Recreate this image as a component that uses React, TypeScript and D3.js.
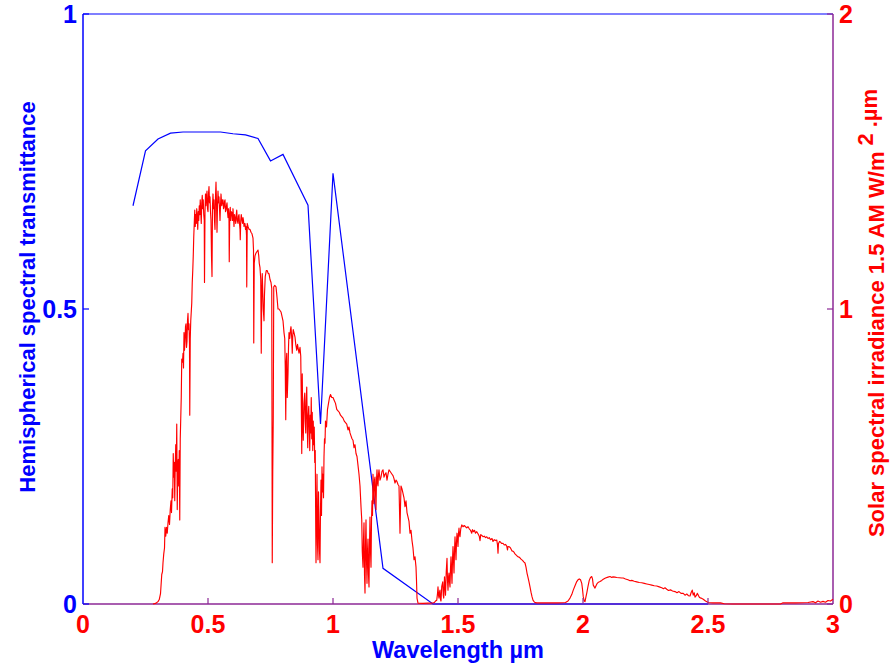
import React from "react";
import * as d3 from "d3";

// ---- Data ----
const transWavelength = [0.2, 0.25, 0.3, 0.35, 0.4, 0.45, 0.5, 0.55, 0.6, 0.65, 0.7, 0.75, 0.8, 0.9, 0.95, 1.0, 1.2, 1.4, 2.5];
const transValue = [0.675, 0.768, 0.788, 0.798, 0.8, 0.8, 0.8, 0.8, 0.797, 0.795, 0.789, 0.751, 0.762, 0.676, 0.305, 0.73, 0.0605, 0, 0];

const irradianceUV: [number, number][] = [
  [0.28, 0], [0.29, 0.002], [0.3, 0.008], [0.305, 0.015], [0.31, 0.035], [0.315, 0.1], [0.318, 0.11],
  [0.32, 0.14], [0.323, 0.17], [0.326, 0.19], [0.328, 0.26], [0.331, 0.23], [0.334, 0.26], [0.337, 0.24],
  [0.34, 0.275], [0.343, 0.3], [0.346, 0.27], [0.349, 0.32], [0.352, 0.35], [0.354, 0.31], [0.357, 0.39],
  [0.359, 0.36], [0.361, 0.51], [0.363, 0.43], [0.365, 0.48], [0.367, 0.35], [0.369, 0.47], [0.371, 0.54],
  [0.373, 0.45], [0.375, 0.61], [0.377, 0.32], [0.379, 0.47], [0.381, 0.49], [0.383, 0.4], [0.385, 0.52],
  [0.387, 0.285], [0.389, 0.56], [0.391, 0.63], [0.393, 0.7], [0.395, 0.83],
];

const irradianceVisible: [number, number][] = [
  [0.398, 0.82], [0.4, 0.85], [0.402, 0.8], [0.404, 0.92], [0.406, 0.86], [0.408, 0.89], [0.41, 0.94],
  [0.412, 0.95], [0.414, 0.87], [0.416, 0.89], [0.418, 0.96], [0.42, 0.985], [0.422, 0.93], [0.424, 0.95],
  [0.426, 0.88], [0.427, 0.64], [0.429, 0.9], [0.431, 0.96], [0.433, 0.99], [0.435, 1.02], [0.437, 1.09],
  [0.439, 1.13], [0.441, 1.18], [0.443, 1.245], [0.445, 1.29], [0.447, 1.335], [0.449, 1.28], [0.451, 1.32],
  [0.453, 1.29], [0.455, 1.34], [0.457, 1.31], [0.459, 1.27], [0.461, 1.33], [0.463, 1.3], [0.465, 1.35],
  [0.467, 1.32], [0.469, 1.37], [0.471, 1.33], [0.473, 1.29], [0.475, 1.36], [0.477, 1.385], [0.479, 1.34],
  [0.481, 1.37], [0.483, 1.32], [0.485, 1.3], [0.486, 1.09], [0.488, 1.33], [0.49, 1.39], [0.492, 1.35],
  [0.494, 1.38], [0.496, 1.4], [0.498, 1.34], [0.5, 1.33], [0.502, 1.39], [0.504, 1.415], [0.506, 1.36],
  [0.508, 1.38], [0.51, 1.33], [0.512, 1.3], [0.514, 1.18], [0.516, 1.11], [0.518, 1.35], [0.52, 1.39],
  [0.522, 1.34], [0.524, 1.37], [0.526, 1.3], [0.528, 1.27], [0.53, 1.38], [0.532, 1.43], [0.534, 1.36],
  [0.536, 1.26], [0.538, 1.35], [0.54, 1.4], [0.542, 1.36], [0.544, 1.38], [0.546, 1.34], [0.548, 1.3],
  [0.55, 1.35], [0.552, 1.39], [0.555, 1.35], [0.558, 1.37], [0.56, 1.37], [0.562, 1.34], [0.564, 1.345],
  [0.566, 1.365], [0.568, 1.37], [0.57, 1.33], [0.572, 1.335], [0.574, 1.35], [0.576, 1.36], [0.578, 1.33],
  [0.58, 1.31], [0.582, 1.34], [0.584, 1.3], [0.585, 1.16], [0.587, 1.32], [0.589, 1.345], [0.591, 1.3],
  [0.593, 1.33], [0.596, 1.325], [0.598, 1.3], [0.6, 1.34], [0.602, 1.31], [0.604, 1.28], [0.606, 1.32],
  [0.608, 1.31], [0.611, 1.29], [0.613, 1.32], [0.615, 1.335], [0.617, 1.3], [0.62, 1.29], [0.622, 1.315],
  [0.624, 1.32], [0.626, 1.29], [0.628, 1.27], [0.629, 1.235], [0.631, 1.3], [0.633, 1.32], [0.636, 1.3],
  [0.638, 1.29], [0.64, 1.31], [0.642, 1.3], [0.644, 1.28], [0.646, 1.29], [0.648, 1.29], [0.65, 1.27],
  [0.652, 1.28], [0.654, 1.25], [0.655, 1.075], [0.657, 1.29], [0.66, 1.28], [0.664, 1.27], [0.668, 1.27],
  [0.672, 1.26], [0.676, 1.255], [0.68, 1.24], [0.682, 1.2], [0.683, 0.885], [0.685, 1.155], [0.688, 1.18],
  [0.692, 1.19], [0.696, 1.195], [0.7, 1.2],
];

const irradianceNearIR: [number, number][] = [
  [0.703, 1.18], [0.705, 1.155], [0.708, 1.14], [0.711, 1.1], [0.713, 0.85], [0.715, 1.05], [0.717, 1.12],
  [0.719, 1.06], [0.721, 1.0], [0.724, 0.96], [0.726, 1.05], [0.729, 1.11], [0.733, 1.13], [0.737, 1.13],
  [0.741, 1.12], [0.744, 1.12], [0.748, 1.1], [0.752, 1.09], [0.755, 1.07], [0.757, 0.14], [0.759, 0.45],
  [0.761, 0.63], [0.763, 1.075], [0.767, 1.08], [0.772, 1.075], [0.776, 1.04], [0.78, 1.0], [0.784, 1.0],
  [0.788, 0.995], [0.792, 0.99], [0.796, 0.975], [0.8, 0.96], [0.804, 0.92], [0.807, 0.9], [0.809, 0.8],
  [0.811, 0.625], [0.813, 0.82], [0.815, 0.85], [0.817, 0.7], [0.82, 0.78], [0.822, 0.87], [0.824, 0.92],
  [0.827, 0.9], [0.83, 0.93], [0.832, 0.94], [0.835, 0.9], [0.837, 0.85], [0.839, 0.91], [0.841, 0.93],
  [0.844, 0.92], [0.848, 0.905], [0.851, 0.88], [0.855, 0.86], [0.858, 0.88], [0.86, 0.87], [0.864, 0.85],
  [0.868, 0.87], [0.871, 0.84], [0.873, 0.7], [0.875, 0.51], [0.877, 0.78], [0.879, 0.62], [0.881, 0.555],
  [0.884, 0.68], [0.887, 0.715], [0.889, 0.62], [0.891, 0.58], [0.893, 0.69], [0.895, 0.735], [0.897, 0.6],
  [0.899, 0.53], [0.901, 0.64], [0.903, 0.67], [0.905, 0.6], [0.907, 0.52], [0.909, 0.64], [0.911, 0.58],
  [0.913, 0.7], [0.915, 0.56], [0.917, 0.65], [0.919, 0.52], [0.921, 0.62], [0.923, 0.54], [0.925, 0.6],
  [0.927, 0.48], [0.929, 0.52], [0.931, 0.25], [0.932, 0.14], [0.934, 0.3], [0.936, 0.44], [0.938, 0.2],
  [0.94, 0.15], [0.942, 0.38], [0.944, 0.285], [0.946, 0.18], [0.948, 0.14], [0.95, 0.32], [0.952, 0.42],
  [0.954, 0.3], [0.956, 0.465], [0.958, 0.38], [0.96, 0.44], [0.962, 0.36], [0.964, 0.5], [0.966, 0.56],
  [0.968, 0.545], [0.97, 0.62], [0.974, 0.6], [0.978, 0.66], [0.982, 0.68], [0.986, 0.7], [0.99, 0.71],
  [0.995, 0.7], [1.0, 0.7], [1.005, 0.69], [1.01, 0.68], [1.015, 0.66], [1.02, 0.655], [1.025, 0.65],
  [1.03, 0.64], [1.035, 0.635], [1.04, 0.63], [1.045, 0.62], [1.05, 0.615], [1.055, 0.61], [1.06, 0.59],
  [1.064, 0.6], [1.068, 0.58], [1.072, 0.57], [1.076, 0.56], [1.08, 0.555], [1.084, 0.53], [1.088, 0.54],
  [1.092, 0.51], [1.096, 0.5], [1.1, 0.47], [1.104, 0.44], [1.108, 0.4], [1.112, 0.33], [1.115, 0.285],
  [1.117, 0.18], [1.12, 0.125], [1.122, 0.22], [1.124, 0.275], [1.126, 0.1], [1.128, 0.037], [1.13, 0.2],
  [1.132, 0.285], [1.134, 0.15], [1.136, 0.07], [1.138, 0.18], [1.14, 0.22], [1.142, 0.1], [1.144, 0.058],
  [1.146, 0.2], [1.148, 0.295], [1.15, 0.18], [1.152, 0.125], [1.154, 0.28], [1.156, 0.35], [1.158, 0.3],
  [1.16, 0.44], [1.162, 0.39], [1.164, 0.34], [1.166, 0.42], [1.168, 0.43], [1.17, 0.38], [1.172, 0.32],
  [1.174, 0.42], [1.176, 0.455], [1.178, 0.41], [1.18, 0.4], [1.182, 0.44], [1.184, 0.455], [1.188, 0.42],
  [1.192, 0.43], [1.196, 0.45], [1.2, 0.455], [1.204, 0.43], [1.208, 0.44], [1.212, 0.445], [1.216, 0.42],
  [1.22, 0.44], [1.224, 0.455], [1.228, 0.45], [1.232, 0.445], [1.236, 0.44], [1.24, 0.435], [1.244, 0.425],
  [1.248, 0.41], [1.252, 0.42], [1.256, 0.415], [1.26, 0.405], [1.264, 0.4], [1.266, 0.32], [1.268, 0.24],
  [1.27, 0.33], [1.272, 0.4], [1.276, 0.39], [1.28, 0.375], [1.284, 0.36], [1.288, 0.33], [1.292, 0.35],
  [1.296, 0.31], [1.3, 0.295], [1.304, 0.28], [1.308, 0.24], [1.312, 0.25], [1.316, 0.215], [1.32, 0.19],
  [1.324, 0.15], [1.328, 0.16], [1.332, 0.125], [1.334, 0.08], [1.336, 0.02], [1.34, 0.003], [1.36, 0.002],
  [1.38, 0.003], [1.4, 0.004],
];

const irradianceShortIR: [number, number][] = [
  [1.405, 0.005], [1.41, 0.01], [1.415, 0.013], [1.418, 0.035], [1.42, 0.058], [1.422, 0.03], [1.424, 0.02],
  [1.426, 0.04], [1.428, 0.047], [1.43, 0.015], [1.432, 0.01], [1.435, 0.06], [1.439, 0.075], [1.441, 0.03],
  [1.443, 0.02], [1.446, 0.092], [1.448, 0.06], [1.45, 0.03], [1.453, 0.11], [1.456, 0.155], [1.458, 0.08],
  [1.46, 0.047], [1.462, 0.09], [1.464, 0.105], [1.466, 0.075], [1.468, 0.058], [1.47, 0.12], [1.472, 0.16],
  [1.474, 0.11], [1.476, 0.07], [1.478, 0.15], [1.48, 0.195], [1.482, 0.15], [1.484, 0.105], [1.486, 0.18],
  [1.488, 0.228], [1.49, 0.19], [1.492, 0.15], [1.494, 0.21], [1.496, 0.24], [1.498, 0.22], [1.5, 0.195],
  [1.502, 0.24], [1.504, 0.257], [1.506, 0.235], [1.508, 0.228], [1.511, 0.255], [1.515, 0.268],
  [1.52, 0.262], [1.525, 0.266], [1.53, 0.262], [1.535, 0.258], [1.54, 0.262], [1.545, 0.255], [1.55, 0.25],
  [1.555, 0.24], [1.558, 0.252], [1.562, 0.245], [1.566, 0.25], [1.57, 0.24], [1.575, 0.245], [1.58, 0.238],
  [1.585, 0.23], [1.588, 0.215], [1.591, 0.235], [1.596, 0.232], [1.6, 0.228], [1.605, 0.23], [1.61, 0.225],
  [1.615, 0.228], [1.62, 0.222], [1.625, 0.225], [1.63, 0.218], [1.636, 0.222], [1.64, 0.212], [1.645, 0.218],
  [1.65, 0.215], [1.655, 0.217], [1.658, 0.2], [1.66, 0.172], [1.662, 0.205], [1.666, 0.212], [1.67, 0.21],
  [1.675, 0.205], [1.68, 0.206], [1.685, 0.2], [1.69, 0.202], [1.695, 0.196], [1.698, 0.183], [1.7, 0.195],
  [1.705, 0.194], [1.71, 0.19], [1.716, 0.18], [1.722, 0.178], [1.728, 0.17], [1.734, 0.165], [1.74, 0.16],
  [1.746, 0.158], [1.752, 0.152], [1.758, 0.148], [1.764, 0.142], [1.768, 0.139], [1.772, 0.125],
  [1.776, 0.105], [1.78, 0.09], [1.784, 0.075], [1.788, 0.058], [1.792, 0.04], [1.796, 0.025], [1.8, 0.013],
  [1.806, 0.006], [1.815, 0.004], [1.85, 0.004], [1.9, 0.004], [1.93, 0.005],
];

const irradianceFarIR: [number, number][] = [
  [1.94, 0.01], [1.948, 0.02], [1.955, 0.032], [1.961, 0.047], [1.968, 0.062], [1.975, 0.076], [1.98, 0.082],
  [1.985, 0.085], [1.99, 0.082], [1.995, 0.07], [1.998, 0.05], [2.001, 0.025], [2.005, 0.01], [2.008, 0.008],
  [2.012, 0.025], [2.015, 0.037], [2.02, 0.06], [2.025, 0.08], [2.03, 0.09], [2.035, 0.093], [2.038, 0.085],
  [2.041, 0.064], [2.045, 0.058], [2.048, 0.054], [2.052, 0.062], [2.057, 0.07], [2.062, 0.074], [2.068, 0.076],
  [2.075, 0.08], [2.081, 0.084], [2.09, 0.088], [2.1, 0.091], [2.108, 0.093], [2.115, 0.09], [2.12, 0.092],
  [2.128, 0.091], [2.135, 0.09], [2.145, 0.089], [2.155, 0.088], [2.161, 0.088], [2.17, 0.085], [2.18, 0.082],
  [2.188, 0.079], [2.195, 0.08], [2.205, 0.077], [2.215, 0.075], [2.225, 0.073], [2.235, 0.072], [2.245, 0.07],
  [2.255, 0.068], [2.265, 0.066], [2.275, 0.064], [2.285, 0.062], [2.295, 0.061], [2.305, 0.058], [2.315, 0.055],
  [2.322, 0.052], [2.328, 0.055], [2.335, 0.05], [2.342, 0.046], [2.35, 0.048], [2.358, 0.044], [2.368, 0.042],
  [2.376, 0.038], [2.384, 0.042], [2.392, 0.036], [2.401, 0.036], [2.408, 0.03], [2.415, 0.034], [2.422, 0.028],
  [2.428, 0.027], [2.433, 0.04], [2.437, 0.047], [2.441, 0.03], [2.445, 0.038], [2.448, 0.023], [2.453, 0.028],
  [2.457, 0.036], [2.461, 0.03], [2.466, 0.022], [2.472, 0.02], [2.481, 0.016], [2.49, 0.01], [2.501, 0.005],
  [2.52, 0.004], [2.55, 0.004], [2.565, 0.001], [2.6, 0], [2.7, 0], [2.79, 0], [2.8, 0.004], [2.85, 0.004],
  [2.9, 0.005], [2.92, 0.008], [2.93, 0.004], [2.94, 0.01], [2.95, 0.006], [2.96, 0.009], [2.97, 0.006],
  [2.98, 0.012], [2.99, 0.01], [3.0, 0.016],
];

const xTicks = [0, 0.5, 1, 1.5, 2, 2.5, 3];
const xTickLabels = ["0", "0.5", "1", "1.5", "2", "2.5", "3"];
const leftTicks = [0, 0.5, 1];
const leftTickLabels = ["0", "0.5", "1"];
const rightTicks = [0, 1, 2];
const rightTickLabels = ["0", "1", "2"];

const xLabel = "Wavelength µm";
const leftLabel = "Hemispherical spectral transmittance";
const rightLabelMain = "Solar spectral irradiance 1.5 AM W/m";
const rightLabelSup = "2";
const rightLabelTail = ".µm";

// ---- Layout ----
const W = 892;
const H = 668;
const L = 83;
const R = 833;
const T = 14;
const B = 604;

const BLUE = "#0000FF";
const RED = "#FF0000";
const PURPLE = "#8C2896";
const FONT = "'Liberation Sans', Arial, Helvetica, sans-serif";

export default function App() {
  const x = d3.scaleLinear().domain([0, 3]).range([L, R]);
  const yL = d3.scaleLinear().domain([0, 1]).range([B, T]);
  const yR = d3.scaleLinear().domain([0, 2]).range([B, T]);

  const transData = transWavelength.map((w, i) => [w, transValue[i]] as [number, number]);
  const irr = [...irradianceUV, ...irradianceVisible, ...irradianceNearIR, ...irradianceShortIR, ...irradianceFarIR];

  const blueLine = d3.line<[number, number]>().x((d) => x(d[0])).y((d) => yL(d[1]))(transData) || "";
  const redLine = d3.line<[number, number]>().x((d) => x(d[0])).y((d) => yR(d[1]))(irr) || "";

  return (
    <svg
      width={W}
      height={H}
      style={{ position: "absolute", left: 0, top: 0, background: "#fff" }}
      fontFamily={FONT}
      fontWeight="bold"
    >
      <rect x={0} y={0} width={W} height={H} fill="#fff" />

      {/* axes */}
      <line x1={L} y1={T} x2={R} y2={T} stroke={BLUE} strokeWidth={1.2} />
      <line x1={L} y1={T} x2={L} y2={B} stroke={BLUE} strokeWidth={1.5} />
      <line x1={R} y1={T} x2={R} y2={B} stroke={PURPLE} strokeWidth={1.5} />
      <line x1={L} y1={B} x2={R} y2={B} stroke={PURPLE} strokeWidth={1.5} />

      {/* blue transmittance */}
      <path d={blueLine} fill="none" stroke={BLUE} strokeWidth={1.2} />
      {/* red irradiance */}
      <path d={redLine} fill="none" stroke={RED} strokeWidth={1.15} strokeLinejoin="round" />

      {/* x ticks */}
      {xTicks.map((t, i) => (
        <g key={"xt" + i}>
          {t > 0 && t < 3 && <line x1={x(t)} x2={x(t)} y1={B} y2={B - 6} stroke={PURPLE} strokeWidth={1.2} />}
          <text x={x(t)} y={B + 29} fill={RED} fontSize={25} textAnchor="middle">
            {xTickLabels[i]}
          </text>
        </g>
      ))}
      {/* left ticks */}
      {leftTicks.map((t, i) => (
        <g key={"lt" + i}>
          <line x1={L} x2={L + 6} y1={yL(t)} y2={yL(t)} stroke={BLUE} strokeWidth={1.2} />
          <text x={L - 6} y={yL(t) + 9} fill={BLUE} fontSize={25} textAnchor="end">
            {leftTickLabels[i]}
          </text>
        </g>
      ))}
      {/* right ticks */}
      {rightTicks.map((t, i) => (
        <g key={"rt" + i}>
          <line x1={R} x2={R - 6} y1={yR(t)} y2={yR(t)} stroke={PURPLE} strokeWidth={1.2} />
          <text x={R + 6} y={yR(t) + 9} fill={RED} fontSize={25} textAnchor="start">
            {rightTickLabels[i]}
          </text>
        </g>
      ))}

      {/* labels */}
      <text x={(L + R) / 2} y={658} fill={BLUE} fontSize={23.5} textAnchor="middle">
        {xLabel}
      </text>
      <text
        transform={`translate(35, 297) rotate(-90)`}
        fill={BLUE}
        fontSize={22}
        textAnchor="middle"
      >
        {leftLabel}
      </text>
      <text
        transform={`translate(884, 313) rotate(-90)`}
        fill={RED}
        fontSize={22}
        textAnchor="middle"
      >
        <tspan>{rightLabelMain}</tspan>
        <tspan dx={6} dy={-11}>{rightLabelSup}</tspan>
        <tspan dx={6} dy={4}>{rightLabelTail}</tspan>
      </text>
    </svg>
  );
}
